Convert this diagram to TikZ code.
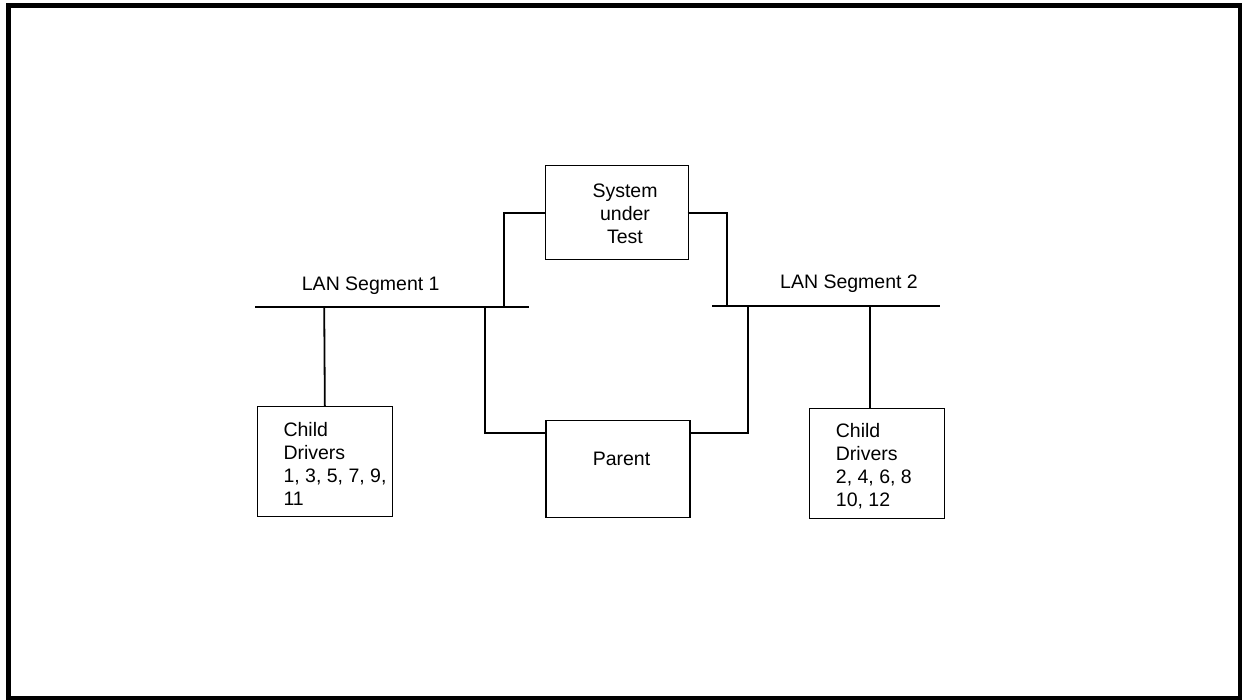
\documentclass[tikz,border=0pt]{standalone}
\usepackage{fontspec}
\setmainfont{Liberation Sans}
\newcommand{\diafont}{\fontsize{19.5}{23}\selectfont}
\begin{document}
\begin{tikzpicture}[x=1pt,y=-1pt,
  boxnode/.style={draw, line width=1.3pt, rectangle, inner sep=0pt, anchor=north west},
  wire/.style={line width=1.8pt},
  label/.style={font=\diafont, inner sep=0pt}]
\useasboundingbox (0,0) rectangle (1242,700);
\draw[line width=5pt] (8.5,5.8) rectangle (1240.5,698.5);

% boxes
\node[boxnode, minimum width=142.7pt, minimum height=94pt] (sut) at (545,165) {};
\node[boxnode, minimum width=144pt, minimum height=96.7pt] (parent) at (545.3,420) {};
\node[boxnode, minimum width=135pt, minimum height=109.7pt] (child1) at (256.7,406) {};
\node[boxnode, minimum width=135pt, minimum height=109.7pt] (child2) at (809,408) {};

% texts
\node[label, anchor=north, align=center] (sutt) at (625,183.3) {System\\under\\Test};
\node[label, anchor=base] (part) at (621.5,465) {Parent};
\node[label, anchor=north west, align=left] (c1t) at (283.3,421.7) {Child\\Drivers\\1, 3, 5, 7, 9,\\11};
\node[label, anchor=north west, align=left] (c2t) at (835.7,423) {Child\\Drivers\\2, 4, 6, 8\\10, 12};
\node[label, anchor=base west] (lan1t) at (301.7,290.5) {LAN Segment 1};
\node[label, anchor=base west] (lan2t) at (780,288.3) {LAN Segment 2};

% LAN segments
\coordinate (l1a) at (255,306.7);
\coordinate (l1b) at (529,306.7);
\coordinate (l2a) at (712.3,305.7);
\coordinate (l2b) at (940,305.7);
\draw[wire] (l1a) -- (l1b);
\draw[wire] (l2a) -- (l2b);

% taps
\coordinate (t1c) at (324.2,306.7);
\coordinate (t1p) at (485,306.7);
\coordinate (t1s) at (504.3,306.7);
\coordinate (t2s) at (727,305.7);
\coordinate (t2p) at (747.7,305.7);
\coordinate (t2c) at (869.7,305.7);
\coordinate (pl) at (545.3,432.7);
\coordinate (pr) at (689.3,432.7);
\coordinate (sl) at (545,213.3);
\coordinate (sr) at (687.7,213.3);

\draw[wire] (t1c) -- (child1.north);
\draw[wire] (t1p) |- (pl);
\draw[wire] (sl) -| (t1s);
\draw[wire] (sr) -| (t2s);
\draw[wire] (t2p) |- (pr);
\draw[wire] (t2c) -- (t2c |- child2.north);
\end{tikzpicture}
\end{document}
